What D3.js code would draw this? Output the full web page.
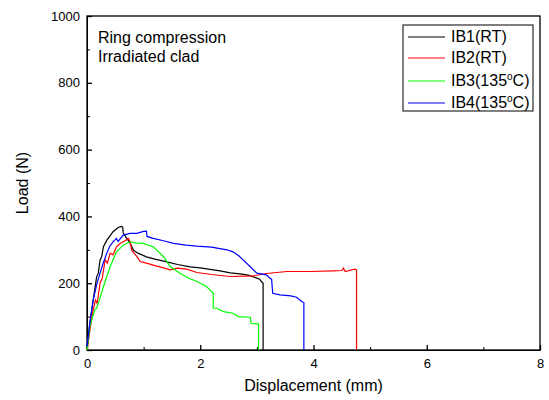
<!DOCTYPE html>
<html lang="en">
<head>
  <meta charset="UTF-8" />
  <title>Ring compression - irradiated clad</title>
  <style>
    body { margin: 0; background: #fff; font-family: "Liberation Sans", Arial, sans-serif; }
    svg text { fill: #000; }
  </style>
</head>
<body>
  <div id="chart"></div>

  <script src="https://d3js.org/d3.v7.min.js"></script>
  <script>
    // IB1 (RT) - black
    const ib1X = [0, 0.05, 0.11, 0.17, 0.2, 0.23, 0.26, 0.29, 0.35, 0.4, 0.46, 0.55, 0.61, 0.63, 0.64, 0.7, 0.76, 0.82, 0.9, 1.05, 1.2, 1.41, 1.6, 1.82, 2.0, 2.23, 2.35, 2.53, 2.7, 2.85, 3.0, 3.05, 3.08, 3.11, 3.11];
    const ib1Y = [10, 80, 150, 219, 230, 269, 280, 309, 329, 340, 354, 367, 370, 368, 350, 335, 320, 299, 290, 279, 272, 264, 256, 249, 246, 240, 237, 231, 228, 224, 215, 212, 205, 200, 0];
    // IB2 (RT) - red
    const ib2X = [0, 0.02, 0.06, 0.11, 0.15, 0.18, 0.23, 0.27, 0.32, 0.36, 0.41, 0.46, 0.52, 0.58, 0.64, 0.7, 0.73, 0.76, 0.79, 0.88, 0.94, 1.05, 1.17, 1.3, 1.47, 1.6, 1.76, 1.94, 2.2, 2.53, 2.8, 2.94, 3.17, 3.53, 3.94, 4.35, 4.5, 4.53, 4.56, 4.73, 4.76, 4.76];
    const ib2Y = [0, 20, 70, 120, 150, 140, 200, 215, 270, 260, 290, 285, 309, 318, 324, 330, 334, 325, 299, 280, 265, 260, 254, 248, 240, 245, 242, 232, 226, 220, 221, 222, 229, 235, 235, 237, 238, 245, 235, 242, 240, 0];
    // IB3 (135C) - green
    const ib3X = [0, 0.05, 0.1, 0.14, 0.17, 0.22, 0.29, 0.35, 0.41, 0.52, 0.64, 0.76, 0.85, 0.99, 1.17, 1.35, 1.47, 1.64, 1.8, 1.94, 2.11, 2.2, 2.23, 2.23, 2.29, 2.41, 2.58, 2.67, 2.88, 2.9, 3.01, 3.03, 3.03];
    const ib3Y = [0, 70, 100, 120, 125, 150, 190, 220, 250, 294, 314, 324, 321, 319, 309, 280, 250, 230, 215, 205, 190, 175, 170, 125, 125, 115, 110, 100, 98, 80, 78, 78, 0];
    // IB4 (135C) - blue
    const ib4X = [0, 0.05, 0.11, 0.17, 0.23, 0.29, 0.35, 0.4, 0.46, 0.52, 0.55, 0.64, 0.76, 0.88, 1.0, 1.05, 1.06, 1.17, 1.35, 1.53, 1.75, 1.94, 2.2, 2.47, 2.58, 2.68, 2.76, 2.88, 3.0, 3.17, 3.23, 3.26, 3.28, 3.41, 3.6, 3.7, 3.79, 3.83, 3.83];
    const ib4Y = [10, 80, 150, 195, 230, 262, 290, 310, 324, 334, 325, 344, 349, 349, 355, 356, 340, 334, 327, 319, 314, 311, 308, 300, 294, 282, 269, 250, 230, 225, 215, 212, 170, 165, 162, 158, 145, 142, 0];

    const seriesNames = ["IB1(RT)", "IB2(RT)", "IB3(135°C)", "IB4(135°C)"];
    const seriesColors = ["#000000", "#ff0000", "#00ff00", "#0000ff"];
    const xTicks = [0, 2, 4, 6, 8];
    const yTicks = [0, 200, 400, 600, 800, 1000];

    const series = [
      {name: seriesNames[0], xs: ib1X, ys: ib1Y},
      {name: seriesNames[1], xs: ib2X, ys: ib2Y},
      {name: seriesNames[2], xs: ib3X, ys: ib3Y},
      {name: seriesNames[3], xs: ib4X, ys: ib4Y}
    ];

    const margin = {top: 16, right: 9, bottom: 50, left: 87},
          width = 549 - margin.left - margin.right,
          height = 400 - margin.top - margin.bottom;

    const svg = d3.select("#chart")
      .append("svg")
        .attr("width", 549)
        .attr("height", 400)
      .append("g")
        .attr("transform", `translate(${margin.left},${margin.top})`);

    const x = d3.scaleLinear().domain([0, 8]).range([0, width]);
    const y = d3.scaleLinear().domain([0, 1000]).range([height, 0]);

    // minor ticks
    svg.append("g")
      .attr("transform", `translate(0,${height})`)
      .call(d3.axisBottom(x).tickValues(d3.range(1, 8, 2)).tickSizeInner(-3).tickSizeOuter(0).tickFormat(""))
      .call(g => g.select(".domain").remove());
    svg.append("g")
      .call(d3.axisLeft(y).tickValues(d3.range(100, 1000, 200)).tickSizeInner(-3).tickSizeOuter(0).tickFormat(""))
      .call(g => g.select(".domain").remove());

    // major axes
    const xAxis = svg.append("g")
      .attr("transform", `translate(0,${height})`)
      .call(d3.axisBottom(x).tickValues(xTicks).tickSizeInner(-5).tickSizeOuter(0).tickPadding(9).tickFormat(d3.format("d")));
    const yAxis = svg.append("g")
      .call(d3.axisLeft(y).tickValues(yTicks).tickSizeInner(-5).tickSizeOuter(0).tickPadding(7).tickFormat(d3.format("d")));

    [xAxis, yAxis].forEach(g => {
      g.selectAll("text").style("font-size", "13px").style("font-family", "'Liberation Sans', Arial, sans-serif");
      g.selectAll("line").attr("stroke", "#000").attr("stroke-width", 1.3);
    });

    // frame
    svg.append("rect")
      .attr("width", width)
      .attr("height", height)
      .attr("fill", "none")
      .attr("stroke", "#000")
      .attr("stroke-width", 1.3);

    const line = d3.line()
      .x(d => x(d[0]))
      .y(d => y(d[1]));

    series.forEach((s, i) => {
      svg.append("path")
        .datum(s.xs.map((v, j) => [v, s.ys[j]]))
        .attr("fill", "none")
        .attr("stroke", seriesColors[i])
        .attr("stroke-width", 1.2)
        .attr("d", line);
    });

    // axis titles
    svg.append("text")
      .attr("x", width / 2)
      .attr("y", height + 41)
      .attr("text-anchor", "middle")
      .style("font-size", "16px")
      .text("Displacement (mm)");

    svg.append("text")
      .attr("transform", `translate(${-59},${height / 2}) rotate(-90)`)
      .attr("text-anchor", "middle")
      .style("font-size", "16px")
      .text("Load (N)");

    // annotation
    svg.append("text").attr("x", 11).attr("y", 27).style("font-size", "16px").text("Ring compression");
    svg.append("text").attr("x", 11).attr("y", 46).style("font-size", "16px").text("Irradiated clad");

    // legend
    const legend = svg.append("g").attr("transform", `translate(${316},${9})`);
    legend.append("rect")
      .attr("width", 130)
      .attr("height", 86)
      .attr("fill", "#fff")
      .attr("stroke", "#000")
      .attr("stroke-width", 1);

    const rowY = [12, 33, 56, 78];
    seriesNames.forEach((name, i) => {
      legend.append("line")
        .attr("x1", 5).attr("x2", 42)
        .attr("y1", rowY[i]).attr("y2", rowY[i])
        .attr("stroke", seriesColors[i])
        .attr("stroke-width", 1);
      const t = legend.append("text")
        .attr("x", 48)
        .attr("y", rowY[i] + 5)
        .style("font-size", "16px");
      if (name.includes("°C")) {
        t.append("tspan").text(name.replace("°C)", ""));
        t.append("tspan").attr("dy", -6).style("font-size", "10px").text("o");
        t.append("tspan").attr("dy", 6).text("C)");
      } else {
        t.text(name);
      }
    });
  </script>
</body>
</html>
